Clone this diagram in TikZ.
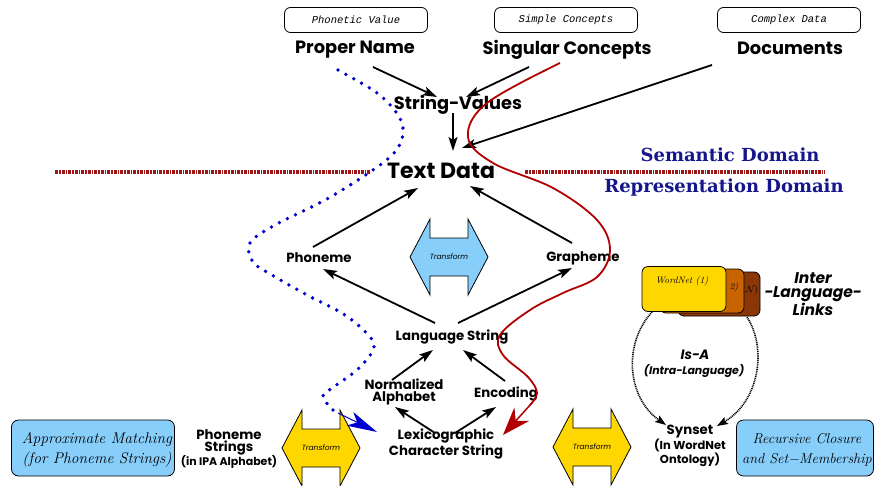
\documentclass[tikz,border=0pt]{standalone}
\usepackage{fontspec}
\usetikzlibrary{arrows.meta}
\newfontfamily\ag{Poppins}
\newfontfamily\cour{Liberation Mono}
\newfontfamily\schoolbook{DejaVu Serif}
\definecolor{skyfill}{HTML}{87CEFA}
\definecolor{goldfill}{HTML}{FFD700}
\definecolor{cardorange}{HTML}{C86400}
\definecolor{cardbrown}{HTML}{8A3606}
\definecolor{navy}{HTML}{16168C}
\definecolor{curvered}{HTML}{B00000}
\definecolor{dividerred}{HTML}{A01515}
\definecolor{dotblue}{HTML}{0000D0}
\tikzset{
  x=1pt, y=-1pt,
  lbl/.style={font=\ag\bfseries\fontsize{13.3}{12}\selectfont, align=center, inner sep=0pt},
  biglbl/.style={font=\ag\bfseries\fontsize{17.8}{18}\selectfont, inner sep=0pt},
  hugelbl/.style={font=\ag\bfseries\fontsize{22}{24}\selectfont, inner sep=0pt},
  domainlbl/.style={font=\schoolbook\bfseries\fontsize{18}{18}\selectfont, text=navy, inner sep=0pt},
  tagbox/.style={draw, rounded corners=6pt, minimum width=143pt, minimum height=25pt,
    font=\cour\itshape\fontsize{10.5}{10}\selectfont, line width=0.8pt},
  infobox/.style={draw, fill=skyfill, rounded corners=7pt, line width=0.8pt},
  scripttxt/.style={font=\itshape\fontsize{15.5}{20}\selectfont, align=center, inner sep=0pt},
  arr/.style={line width=1.8pt, -{Stealth[length=14pt,width=9pt,inset=3pt]}},
  isarr/.style={line width=1.6pt, dash pattern=on 1pt off 0.8pt,
    -{Stealth[length=11pt,width=8pt,inset=2pt,line width=0pt]}},
  card/.style={draw, rounded corners=6pt, line width=0.8pt},
  pics/dblarrow/.style={code={
    \draw[pic actions, line width=0.8pt] (-39,0) -- (-19,-38) -- (-19,-19) -- (19,-19) -- (19,-38)
      -- (39,0) -- (19,38) -- (19,19) -- (-19,19) -- (-19,38) -- cycle;
    \node[font=\ag\itshape\fontsize{7.5}{8}\selectfont] (lbl) {Transform};
  }}
}
\begin{document}
\begin{tikzpicture}
\path[use as bounding box] (0,0) rectangle (875,485);

% domain divider
\draw[dividerred, line width=4.5pt, dash pattern=on 3pt off 1pt on 1.5pt off 1pt] (55,172) -- (370,172);
\draw[dividerred, line width=4.5pt, dash pattern=on 3pt off 1pt on 1.5pt off 1pt] (525,172) -- (825,172);
\node[domainlbl] (sem) at (730,155) {Semantic Domain};
\node[domainlbl] (rep) at (724,188) {Representation Domain};

% source tags and categories
\node[tagbox] (tagpv) at (356,20) {Phonetic Value};
\node[tagbox] (tagsc) at (566,20) {Simple Concepts};
\node[tagbox] (tagcd) at (789,20) {Complex Data};
\node[biglbl] (pn) at (355,50) {Proper Name};
\node[biglbl] (sc) at (567,50) {Singular Concepts};
\node[biglbl] (docs) at (790,48) {Documents};

\node[biglbl] (sv) at (458,105) {String−Values};
\node[hugelbl] (td) at (441,171) {Text Data};

\node[lbl] (ph) at (319,258) {Phoneme};
\node[lbl] (gr) at (583,258) {Grapheme};
\node[lbl] (ls) at (452,337) {Language String};
\node[lbl] (na) at (404,392) {Normalized\\Alphabet};
\node[lbl] (enc) at (506,394) {Encoding};
\node[lbl, font=\ag\bfseries\fontsize{13.3}{13}\selectfont] (lex) at (446,444) {Lexicographic\\Character String};

\node[lbl] (phs) at (229,449) {Phoneme\\Strings\\{\fontsize{11}{12}\selectfont (in IPA Alphabet)}};
\node[lbl, font=\ag\bfseries\fontsize{13.3}{13.5}\selectfont] (syn) at (690,446) {Synset\\{\fontsize{11.5}{13.5}\selectfont (In WordNet}\\{\fontsize{11.5}{13.5}\selectfont Ontology)}};

% transform arrows
\pic[fill=skyfill] (xmid) at (449,257) {dblarrow};
\pic[fill=goldfill] (xleft) at (321,448) {dblarrow};
\pic[fill=goldfill] (xright) at (592,447) {dblarrow};

% side boxes
\node[infobox, minimum width=163pt, minimum height=56pt] (amb) at (93,448) {};
\node[scripttxt] (amt) at (97,450) {Approximate Matching\\(for Phoneme Strings)};
\node[infobox, minimum width=137pt, minimum height=56pt] (rcb) at (805,448) {};
\node[scripttxt, font=\itshape\fontsize{14.3}{20}\selectfont] (rct) at (807,450) {Recursive Closure\\and Set−Membership};

% WordNet cards
\node[card, fill=cardbrown, minimum width=82pt, minimum height=44pt] (wn3) at (719,294) {};
\node[card, fill=cardorange, minimum width=84pt, minimum height=44pt] (wn2) at (702,291) {};
\node[card, fill=goldfill, minimum width=84pt, minimum height=45pt] (wn1) at (684,289) {};
\node[font=\itshape\fontsize{9.5}{9}\selectfont, inner sep=0pt] (wn1t) at (682,281) {WordNet (1)};
\node[font=\itshape\fontsize{9}{9}\selectfont, inner sep=0pt] (wn2t) at (734,287) {2)};
\node[font=\fontsize{9}{9}\selectfont, inner sep=0pt] (wn3t) at (752,290) {$\mathcal{N}$)};
\node[lbl, font=\ag\bfseries\itshape\fontsize{15.5}{14.5}\selectfont] (inter) at (813,294) {Inter\\−Language−\\Links};

\node[lbl, font=\ag\bfseries\itshape\fontsize{13.5}{14}\selectfont] (isa) at (695,355) {Is−A};
\node[lbl, font=\ag\bfseries\itshape\fontsize{11}{11}\selectfont] (intra) at (694,371) {(Intra−Language)};

% connector end points
\coordinate (pn-out) at (373,67);
\coordinate (sv-inl) at (437,97);
\coordinate (sc-out) at (529,67);
\coordinate (sv-inr) at (466,97);
\coordinate (sv-out) at (453,113);
\coordinate (td-intop) at (453,151);
\coordinate (docs-out) at (712,65);
\coordinate (td-inr) at (462,148);
\coordinate (ph-up) at (313,247);
\coordinate (td-inbl) at (418,188);
\coordinate (gr-up) at (572,243);
\coordinate (td-inbr) at (470,186);
\coordinate (ls-outl) at (435,323);
\coordinate (ph-in) at (323,269);
\coordinate (ls-outr) at (458,323);
\coordinate (gr-in) at (572,268);
\coordinate (na-up) at (392,380);
\coordinate (ls-inl) at (433,350);
\coordinate (enc-up) at (505,381);
\coordinate (ls-inr) at (463,350);
\coordinate (lex-outl) at (435,433);
\coordinate (na-in) at (395,407);
\coordinate (lex-outr) at (455,433);
\coordinate (enc-in) at (496,407);
\coordinate (wn-bl) at (652,312);
\coordinate (wn-br) at (747,317);
\coordinate (syn-inl) at (666,425);
\coordinate (syn-inr) at (717,426);

\draw[arr] (pn-out) -- (sv-inl);
\draw[arr] (sc-out) -- (sv-inr);
\draw[arr] (sv-out) -- (td-intop);
\draw[arr] (docs-out) -- (td-inr);
\draw[arr] (ph-up) -- (td-inbl);
\draw[arr] (gr-up) -- (td-inbr);
\draw[arr] (ls-outl) -- (ph-in);
\draw[arr] (ls-outr) -- (gr-in);
\draw[arr] (na-up) -- (ls-inl);
\draw[arr] (enc-up) -- (ls-inr);
\draw[arr] (lex-outl) -- (na-in);
\draw[arr] (lex-outr) -- (enc-in);

% is-a relations
\draw[isarr] (wn-bl) .. controls (622,345) and (628,398) .. (syn-inl);
\draw[isarr] (wn-br) .. controls (768,350) and (758,402) .. (syn-inr);

% phonetic path
\draw[dotblue, line width=3.8pt, line cap=round, dash pattern=on 0pt off 9pt]
  plot[smooth, tension=0.6] coordinates {(338,70) (377,93) (398,115) (403,133) (395,152) (370,172)
  (325,200) (275,225) (250,243) (253,262) (272,275) (307,295) (345,315) (370,337) (373,350)
  (357,370) (332,388) (323,397) (335,412)};
\coordinate (blue-from) at (338,413);
\coordinate (blue-to) at (377,432);
\draw[dotblue, line width=1pt, -{Stealth[length=30pt,width=15pt,inset=8pt]}] (blue-from) -- (blue-to);

% conceptual path
\draw[curvered, line width=1.8pt]
  plot[smooth, tension=0.6] coordinates {(560,63) (487,103) (468,137) (493,163) (553,188)
  (597,220) (610,250) (597,277) (563,293) (530,310) (500,335) (503,355) (528,377) (537,393) (530,405)};
\coordinate (red-from) at (531,404);
\coordinate (red-to) at (503,435);
\draw[curvered, line width=1.5pt, -{Stealth[length=28pt,width=20pt,inset=9pt]}] (red-from) -- (red-to);
\end{tikzpicture}
\end{document}
